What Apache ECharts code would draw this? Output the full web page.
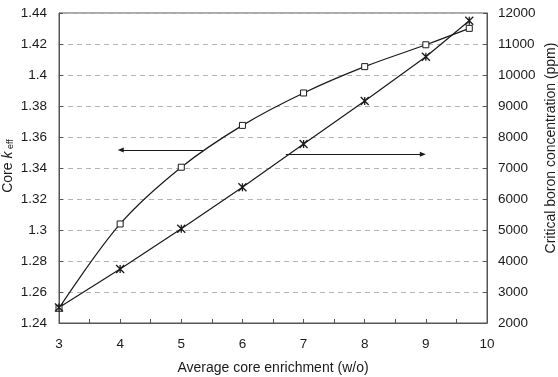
<!DOCTYPE html>
<html>
<head>
<meta charset="utf-8">
<script src="https://cdn.jsdelivr.net/npm/echarts@6/dist/echarts.min.js"></script>
<style>
html,body{margin:0;padding:0;background:#fff;}
#chart{width:558px;height:377px;}
</style>
</head>
<body>
<div id="chart"></div>
<script>
var enrichment = [3, 4, 5, 6, 7, 8, 9, 9.71];
var keff = [1.2495, 1.3039, 1.3405, 1.3675, 1.3884, 1.4054, 1.4195, 1.4301];
var boron = [2500, 3742, 5042, 6377, 7774, 9161, 10590, 11752];
var keffArrow = [[5.36, 1.3516], [4.01, 1.3516]];
var boronArrow = [[6.71, 7442], [8.95, 7442]];

var FONT = 'Liberation Sans, Arial, sans-serif';
var INK = '#1a1a1a';
var FS = 13.5;

function pairs(xs, ys) { return xs.map(function (x, i) { return [x, ys[i]]; }); }

var chart = echarts.init(document.getElementById('chart'), null, {renderer: 'canvas'});
chart.setOption({
  animation: false,
  backgroundColor: '#fff',
  textStyle: {fontFamily: FONT},
  grid: {left: 59, right: 71, top: 13, bottom: 54, show: true, borderColor: '#555', borderWidth: 1,
    backgroundColor: 'transparent', containLabel: false, outerBoundsMode: 'none'},
  xAxis: {
    type: 'value', min: 3, max: 10, interval: 1,
    name: 'Average core enrichment (w/o)', nameLocation: 'middle', nameGap: 38,
    nameTextStyle: {fontFamily: FONT, fontSize: 14, color: INK},
    axisLine: {show: true, onZero: false, lineStyle: {color: '#555', width: 1}},
    axisTick: {show: true, inside: true, length: 4, lineStyle: {color: '#555'}},
    minorTick: {show: true, splitNumber: 2, length: 4, lineStyle: {color: '#555'}},
    axisLabel: {margin: 14, fontFamily: FONT, fontSize: FS, color: INK},
    splitLine: {show: false}
  },
  yAxis: [{
    type: 'value', min: 1.24, max: 1.44, interval: 0.02, position: 'left',
    axisLine: {show: true, lineStyle: {color: '#555', width: 1}},
    axisTick: {show: true, inside: true, length: 4, lineStyle: {color: '#555'}},
    axisLabel: {margin: 12, fontFamily: FONT, fontSize: FS, color: INK},
    splitLine: {show: true, lineStyle: {color: '#b5b5b5', type: [5, 4], width: 1}}
  }, {
    type: 'value', min: 2000, max: 12000, interval: 1000, position: 'right',
    axisLine: {show: true, lineStyle: {color: '#555', width: 1}},
    axisTick: {show: true, inside: true, length: 4, lineStyle: {color: '#555'}},
    axisLabel: {margin: 11, fontFamily: FONT, fontSize: FS, color: INK,
      formatter: function (v) { return String(v); }},
    splitLine: {show: false}
  }],
  series: [{
    name: 'keff', type: 'line', yAxisIndex: 0,
    data: pairs(enrichment, keff),
    smooth: 0.35,
    symbol: 'rect', symbolSize: 6,
    lineStyle: {color: INK, width: 1.2},
    itemStyle: {color: '#fff', borderColor: INK, borderWidth: 1},
    markLine: {
      silent: true, symbol: ['none', 'triangle'], symbolSize: [5, 6],
      lineStyle: {color: INK, width: 1.2, type: 'solid'},
      label: {show: false},
      data: [[{coord: keffArrow[0]}, {coord: keffArrow[1]}]]
    }
  }, {
    name: 'boron', type: 'line', yAxisIndex: 1,
    data: pairs(enrichment, boron),
    smooth: false,
    symbol: 'path://M0,0L10,10M10,0L0,10M5,0L5,10', symbolSize: 8,
    lineStyle: {color: INK, width: 1.2},
    itemStyle: {color: 'none', borderColor: INK, borderWidth: 1.3},
    markLine: {
      silent: true, symbol: ['none', 'triangle'], symbolSize: [5, 6],
      lineStyle: {color: INK, width: 1.2, type: 'solid'},
      label: {show: false},
      data: [[{coord: boronArrow[0]}, {coord: boronArrow[1]}]]
    }
  }],
  graphic: [{
    type: 'text', x: 8, y: 166, rotation: Math.PI / 2,
    style: {
      text: '{n|Core }{k|k}{s| eff}', align: 'center', verticalAlign: 'middle',
      rich: {
        n: {fontFamily: FONT, fontSize: 14, fill: INK},
        k: {fontFamily: FONT, fontSize: 14, fontStyle: 'italic', fill: INK},
        s: {fontFamily: FONT, fontSize: 9, fill: INK, verticalAlign: 'bottom', padding: [5, 0, 0, 0]}
      }
    }
  }, {
    type: 'text', x: 551, y: 148, rotation: Math.PI / 2,
    style: {
      text: 'Critical boron concentration (ppm)', align: 'center', verticalAlign: 'middle',
      fontFamily: FONT, fontSize: 14, fill: INK
    }
  }]
});
</script>
</body>
</html>
